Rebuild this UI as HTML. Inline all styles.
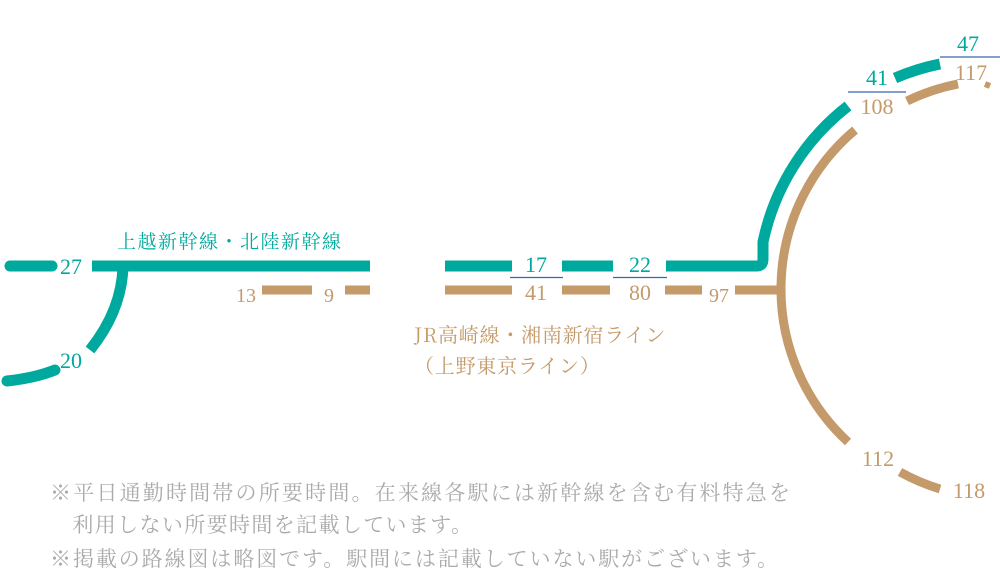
<!DOCTYPE html>
<html><head><meta charset="utf-8"><style>
html,body{margin:0;padding:0;background:#fff;}
svg{display:block}
.t{fill:#00a99d}.g{fill:#c49a6a}
.n{font-family:"Liberation Serif","Noto Serif CJK SC",serif;font-size:22px;text-anchor:middle}
.j{font-family:"Noto Serif CJK SC",serif}
</style></head><body>
<svg width="1000" height="574" viewBox="0 0 1000 574">
<g fill="none" stroke-linecap="butt">
<path d="M10 266 H52" stroke="#00a99d" stroke-width="11" stroke-linecap="round"/>
<path d="M92 266 H370" stroke="#00a99d" stroke-width="11"/>
<path d="M123 266 Q122 310 90 350" stroke="#00a99d" stroke-width="11"/>
<path d="M55 370 Q35 378 7 381" stroke="#00a99d" stroke-width="11" stroke-linecap="round"/>
<path d="M445 266 H512" stroke="#00a99d" stroke-width="11"/>
<path d="M562 266 H613" stroke="#00a99d" stroke-width="11"/>
<path d="M666 266 H757 Q763 266 763 259 L763 242 A232 232 0 0 1 848 106" stroke="#00a99d" stroke-width="11"/>
<path d="M895 78 A232 232 0 0 1 940 64" stroke="#00a99d" stroke-width="11"/>
<path d="M262 290 H312" stroke="#c49a6a" stroke-width="9"/>
<path d="M345 290 H370" stroke="#c49a6a" stroke-width="9"/>
<path d="M445 290 H512" stroke="#c49a6a" stroke-width="9"/>
<path d="M562 290 H610" stroke="#c49a6a" stroke-width="9"/>
<path d="M665 290 H702" stroke="#c49a6a" stroke-width="9"/>
<path d="M735 290 H782" stroke="#c49a6a" stroke-width="9"/>
<path d="M855 130 A208 208 0 0 0 848 442" stroke="#c49a6a" stroke-width="9"/>
<path d="M907 101 A208 208 0 0 1 958 84" stroke="#c49a6a" stroke-width="9"/>
<path d="M985 84 L990 86" stroke="#c49a6a" stroke-width="6"/>
<path d="M900 472 A206 206 0 0 0 940 489" stroke="#c49a6a" stroke-width="9"/>
<path d="M510 277.5 H563 M613 277.5 H667 M848 92 H906 M940 57 H1000" stroke="#3a66b0" stroke-width="1.2"/>
</g>
<g class="n t">
<text x="71" y="274">27</text>
<text x="71" y="368">20</text>
<text x="536" y="272">17</text>
<text x="640" y="272">22</text>
<text x="877" y="85">41</text>
<text x="968" y="51">47</text>
</g>
<g class="n g">
<text x="246" y="302" style="font-size:20px">13</text>
<text x="329" y="302" style="font-size:20px">9</text>
<text x="536" y="300">41</text>
<text x="640" y="300">80</text>
<text x="719" y="302" style="font-size:20px">97</text>
<text x="877" y="114">108</text>
<text x="971" y="80">117</text>
<text x="878" y="466">112</text>
<text x="969" y="498">118</text>
</g>
<text x="117" y="248" class="j t" style="font-size:19px;letter-spacing:1.5px">上越新幹線・北陸新幹線</text>
<text x="414" y="342" class="j g" style="font-size:20px;letter-spacing:0.8px">JR高崎線・湘南新宿ライン</text>
<text x="414" y="373" class="j g" style="font-size:20px;letter-spacing:0.8px">（上野東京ライン）</text>
<g class="j" fill="#aaa" style="font-size:21px">
<text x="50" y="500" textLength="740" lengthAdjust="spacing">※平日通勤時間帯の所要時間。在来線各駅には新幹線を含む有料特急を</text>
<text x="50" y="532" textLength="422" lengthAdjust="spacing">　利用しない所要時間を記載しています。</text>
<text x="50" y="566" textLength="728" lengthAdjust="spacing">※掲載の路線図は略図です。駅間には記載していない駅がございます。</text>
</g>
</svg>
</body></html>
